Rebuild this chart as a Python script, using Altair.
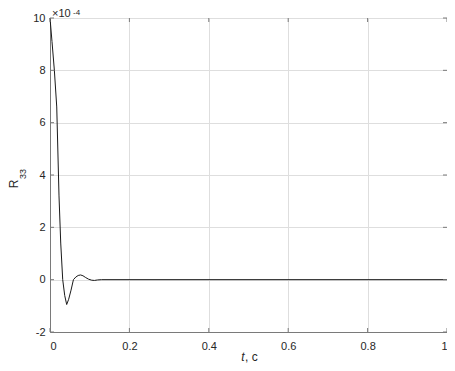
import altair as alt
import pandas as pd

# ---- data ----
t_vals = [0, 0.005, 0.011, 0.017, 0.0227, 0.027, 0.032, 0.037, 0.042, 0.047,
          0.053, 0.059, 0.065, 0.071, 0.077, 0.083, 0.09, 0.097, 0.105,
          0.112, 0.12, 0.13, 1.0]
r_vals = [10, 9.1, 8.0, 6.6, 3.2, 1.4, 0.0, -0.6, -0.95, -0.75,
          -0.4, 0.0, 0.1, 0.16, 0.18, 0.15, 0.08, 0.02, -0.02,
          -0.03, -0.01, 0.0, 0.0]
x_ticks = [0, 0.2, 0.4, 0.6, 0.8, 1]
y_ticks = [-2, 0, 2, 4, 6, 8, 10]

W, H = 397, 314
FONT = "Liberation Sans"
AX = "#7a7a7a"
TXT = "#262626"
GRID = "#dedede"

df = pd.DataFrame({"t": t_vals, "r": r_vals})
xt = pd.DataFrame({"t": x_ticks})
yt = pd.DataFrame({"r": y_ticks})

xs = alt.Scale(domain=[0, 1], nice=False, zero=False)
ys = alt.Scale(domain=[-2, 10], nice=False, zero=False)

x_axis = alt.Axis(
    values=x_ticks, title=None, grid=True, gridColor=GRID, tickSize=0,
    labelPadding=8, labelFont=FONT, labelFontSize=11, labelColor=TXT,
    domainColor=AX, labelExpr="'' + datum.value")
y_axis = alt.Axis(
    values=y_ticks, title=None, grid=True, gridColor=GRID, tickSize=0,
    labelPadding=5, labelFont=FONT, labelFontSize=11, labelColor=TXT,
    domainColor=AX, labelExpr="'' + datum.value")

X = alt.X("t:Q", scale=xs, axis=x_axis)
Y = alt.Y("r:Q", scale=ys, axis=y_axis)

line = alt.Chart(df).mark_line(color="#1a1a1a", strokeWidth=1.0).encode(x=X, y=Y)

tick_b = alt.Chart(xt).mark_rule(color=AX).encode(
    x=X, y=alt.value(H), y2=alt.value(H - 4))
tick_t = alt.Chart(xt).mark_rule(color=AX).encode(
    x=X, y=alt.value(0), y2=alt.value(4))
tick_l = alt.Chart(yt).mark_rule(color=AX).encode(
    y=Y, x=alt.value(0), x2=alt.value(4))
tick_r = alt.Chart(yt).mark_rule(color=AX).encode(
    y=Y, x=alt.value(W - 4), x2=alt.value(W))

one = pd.DataFrame({"a": [0]})

def label(txt, x, y, size, **kw):
    return alt.Chart(one).mark_text(
        text=txt, font=FONT, fontSize=size, color=TXT, **kw
    ).encode(x=alt.value(x), y=alt.value(y))

exp_a = label("×10", 2, -1, 11, align="left", baseline="alphabetic")
exp_b = label("-4", 23, -3.5, 8, align="left", baseline="alphabetic")
ytitle_a = label("R", -32, 166, 12, align="center", baseline="alphabetic", angle=270)
ytitle_b = label("33", -24.5, 156, 9, align="center", baseline="alphabetic", angle=270)
xtitle_a = label("t", 194.5, 343, 12, align="right", baseline="alphabetic", fontStyle="italic")
xtitle_b = label(", c", 195, 343, 12, align="left", baseline="alphabetic")

chart = alt.layer(
    line, tick_b, tick_t, tick_l, tick_r,
    exp_a, exp_b, ytitle_a, ytitle_b, xtitle_a, xtitle_b
).properties(
    width=W, height=H,
    autosize=alt.AutoSizeParams(type="none"),
    padding={"left": 42, "top": 10, "right": 0, "bottom": 31},
    background="white",
).configure_view(stroke=AX, strokeWidth=1)

chart.save("out.html", embed_options={"renderer": "svg", "actions": False})
